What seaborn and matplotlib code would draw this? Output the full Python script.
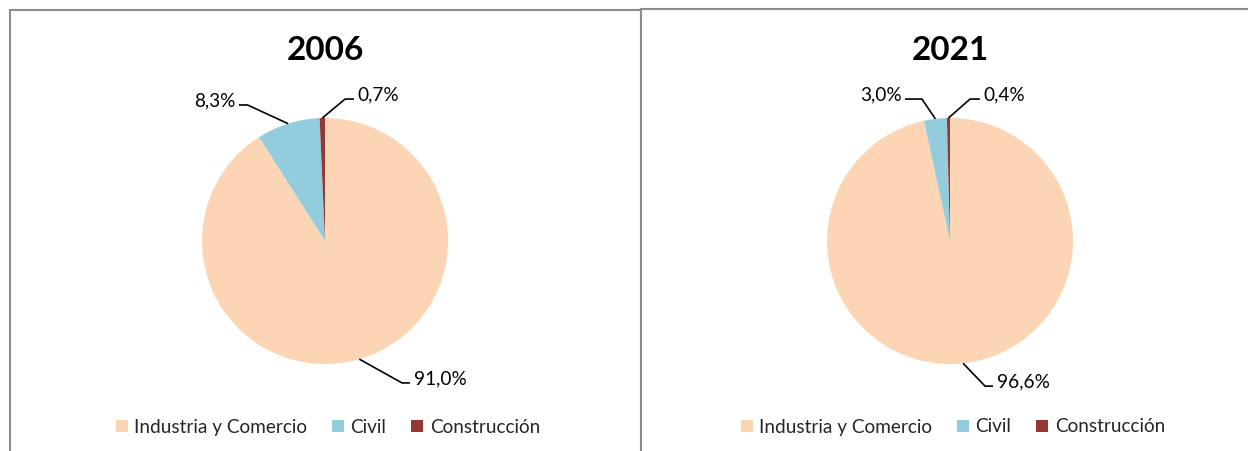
import numpy as np
import matplotlib
matplotlib.use('Agg')
import matplotlib.pyplot as plt
import seaborn as sns

# Data
years = ['2006', '2021']
sectors = ['Industria y Comercio', 'Civil', 'Construcción']
shares_2006 = [91.0, 8.3, 0.7]
shares_2021 = [96.6, 3.0, 0.4]
sector_colors = ['#FCD5B5', '#93CDDD', '#953735']

sns.set_theme(style='white')
plt.rcParams['font.family'] = ['Lato', 'DejaVu Sans']

W, H = 1248, 451
R = 123.0  # pie radius in px
fig = plt.figure(figsize=(W / 100, H / 100), dpi=100)
palette = sns.color_palette(sector_colors)

# panel layout in px: (left, right, top, pie centre x, pie centre y)
panels = [(10, 641, 10, 325, 241), (641, 1248, 9, 950, 241)]

# elbow / end points of leader lines, in radius units, per label
leaders = [
    [((0.626, -1.154), (0.69, -1.154)), ((-0.63, 1.106), (-0.70, 1.106)), ((0.163, 1.154), (0.236, 1.154))],
    [((0.285, -1.18), (0.35, -1.18)), ((-0.228, 1.154), (-0.366, 1.154)), ((0.163, 1.154), (0.244, 1.154))],
]

for i, (year, vals) in enumerate(zip(years, [shares_2006, shares_2021])):
    left, right, top, cx, cy = panels[i]
    ax = fig.add_axes([left / W, 0, (right - left) / W, (H - top) / H])
    wedges, _ = ax.pie(vals, colors=palette, startangle=90, counterclock=False,
                       radius=1, wedgeprops=dict(linewidth=0))
    ax.set_xlim((left - cx) / R, (right - cx) / R)
    ax.set_ylim((cy - H) / R, (cy - top) / R)
    ax.set_aspect('equal', adjustable='datalim')
    ax.set_frame_on(True)
    for side, sp in ax.spines.items():
        sp.set_color('#8c8c8c')
        sp.set_linewidth(1.5)
        sp.set_visible(side != 'bottom' and not (i == 1 and side == 'right'))

    ax.text(0, (cy - 50) / R, year, ha='center', va='center',
            fontsize=24, fontweight='bold', color='black')

    # data labels with leader lines
    for w, v, (elbow, end) in zip(wedges, vals, leaders[i]):
        mid = np.deg2rad((w.theta1 + w.theta2) / 2)
        start = (np.cos(mid), np.sin(mid))
        ax.plot([start[0], elbow[0], end[0]], [start[1], elbow[1], end[1]],
                color='black', linewidth=1.2, solid_capstyle='butt')
        ha = 'left' if end[0] > elbow[0] else 'right'
        dx = 0.03 if ha == 'left' else -0.03
        ax.text(end[0] + dx, end[1] + 0.035, f"{v:.1f}".replace('.', ',') + '%',
                ha=ha, va='center', fontsize=13.7, color='black')

    ax.legend(wedges, sectors, loc='center', ncol=3, frameon=False,
              bbox_to_anchor=(0.024, (cy - 427) / R), bbox_transform=ax.transData,
              fontsize=13.7, handlelength=0.62, handleheight=0.62,
              handletextpad=0.35, columnspacing=1.3)

fig.savefig('out.png', dpi=100)
